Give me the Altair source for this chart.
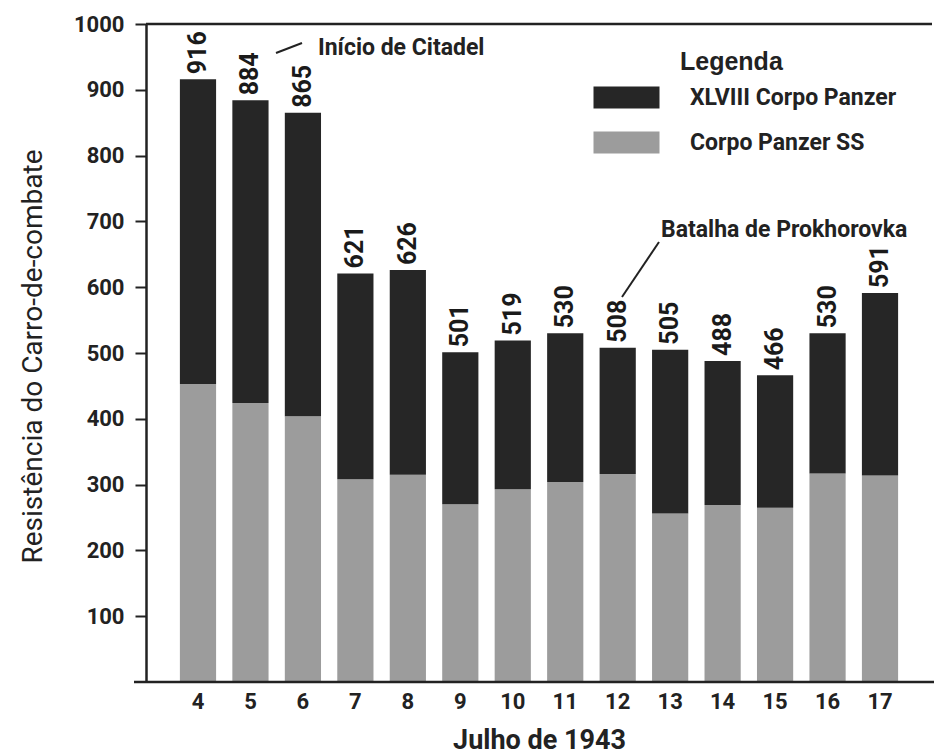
import altair as alt
import pandas as pd

# ---- data ----
days = [4, 5, 6, 7, 8, 9, 10, 11, 12, 13, 14, 15, 16, 17]
totals = [916, 884, 865, 621, 626, 501, 519, 530, 508, 505, 488, 466, 530, 591]
corpo_ss = [453, 424, 404, 308, 315, 270, 293, 304, 316, 256, 269, 265, 317, 314]
xlviii = [463, 460, 461, 313, 311, 231, 226, 226, 192, 249, 219, 201, 213, 277]
series_names = ["XLVIII Corpo Panzer", "Corpo Panzer SS"]
y_ticks = [100, 200, 300, 400, 500, 600, 700, 800, 900, 1000]

NARROW = "Roboto, Liberation Sans, sans-serif"
BOLD = "Liberation Sans, Arial, sans-serif"
DARK = "#262626"
GRAY = "#9c9c9c"
INK = "#222222"

rows = []
for d, s, x in zip(days, corpo_ss, xlviii):
    rows.append({"day": d, "series": "Corpo Panzer SS", "value": s, "ord": 0})
    rows.append({"day": d, "series": "XLVIII Corpo Panzer", "value": x, "ord": 1})
bars_df = pd.DataFrame(rows)
tot_df = pd.DataFrame({"day": days, "total": totals})

W, H = 786, 658

x_enc = alt.X(
    "day:O", sort=days,
    scale=alt.Scale(paddingInner=0.31, paddingOuter=0.646),
    axis=alt.Axis(title="Julho de 1943", labelAngle=0, ticks=False, domain=False,
                  labelFont=NARROW, labelFontWeight="bold", labelFontSize=22,
                  labelColor=INK, labelPadding=9,
                  titleFont=NARROW, titleFontWeight="bold", titleFontSize=27,
                  titleColor=INK, titleY=58, titleBaseline="middle"),
)
y_scale = alt.Scale(domain=[0, 1000], nice=False)

bars = alt.Chart(bars_df).mark_bar(stroke=None).encode(
    x=x_enc,
    y=alt.Y("value:Q", stack="zero", scale=y_scale,
            axis=alt.Axis(values=y_ticks, format="d", grid=False, tickSize=11, tickWidth=2,
                          tickColor=INK, domainWidth=2.5, domainColor=INK,
                          labelFont=NARROW, labelFontWeight="bold", labelFontSize=22,
                          labelColor=INK, labelPadding=11,
                          title="Resistência do Carro-de-combate",
                          titleFont=NARROW, titleFontWeight="normal", titleFontSize=28,
                          titleColor=INK, titleX=-113, titleY=332,
                          titleBaseline="middle", titleAngle=270)),
    color=alt.Color("series:N",
                    scale=alt.Scale(domain=series_names, range=[DARK, GRAY]),
                    legend=alt.Legend(title=None, orient="none", legendX=469, legendY=62,
                                      symbolType="M-3,-1H3V1H-3Z", symbolSize=484,
                                      symbolStrokeWidth=0, labelOffset=52, rowPadding=21,
                                      labelFont=NARROW, labelFontWeight="bold",
                                      labelFontSize=23, labelColor=INK, labelLimit=0,
                                      padding=0)),
    order=alt.Order("ord:Q"),
)

labels = alt.Chart(tot_df).mark_text(
    angle=270, align="left", baseline="middle", dx=5,
    font=NARROW, fontWeight="bold", fontSize=25, color="#1a1a1a",
).encode(x=alt.X("day:O", sort=days), y=alt.Y("total:Q", scale=y_scale), text="total:Q")

top_line = alt.Chart(pd.DataFrame({"v": [1000]})).mark_rule(
    color=INK, strokeWidth=2.5).encode(
    y=alt.Y("v:Q", scale=y_scale), x=alt.value(0), x2=alt.value(W))
base_line = alt.Chart(pd.DataFrame({"v": [0]})).mark_rule(
    color=INK, strokeWidth=2.5).encode(
    y=alt.Y("v:Q", scale=y_scale), x=alt.value(-12), x2=alt.value(W + 2))

ann_text = alt.Chart(pd.DataFrame({"t": ["Início de Citadel"]})).mark_text(
    align="left", baseline="middle", font=NARROW, fontWeight="bold", fontSize=23,
    color=INK).encode(text="t:N", x=alt.value(172), y=alt.value(24))
ann_text2 = alt.Chart(pd.DataFrame({"t": ["Batalha de Prokhorovka"]})).mark_text(
    align="left", baseline="middle", font=NARROW, fontWeight="bold", fontSize=23,
    color=INK).encode(text="t:N", x=alt.value(515), y=alt.value(206))
lead1 = alt.Chart(pd.DataFrame({"a": [1]})).mark_rule(color=INK, strokeWidth=2).encode(
    x=alt.value(130), y=alt.value(29), x2=alt.value(156), y2=alt.value(19))
lead2 = alt.Chart(pd.DataFrame({"a": [1]})).mark_rule(color=INK, strokeWidth=2).encode(
    x=alt.value(476), y=alt.value(273), x2=alt.value(513), y2=alt.value(218))
legend_title = alt.Chart(pd.DataFrame({"t": ["Legenda"]})).mark_text(
    align="left", baseline="middle", font=BOLD, fontWeight="bold", fontSize=25,
    color=INK).encode(text="t:N", x=alt.value(534), y=alt.value(38))

chart = alt.layer(bars, labels, top_line, base_line, ann_text, ann_text2, lead1, lead2,
                  legend_title).properties(
    width=W, height=H,
    autosize=alt.AutoSizeParams(type="none"),
    padding={"left": 146, "top": 24, "right": 2, "bottom": 74},
    background="white",
).configure_view(stroke=None)

chart.save("out.html", embed_options={"renderer": "svg", "actions": False})
